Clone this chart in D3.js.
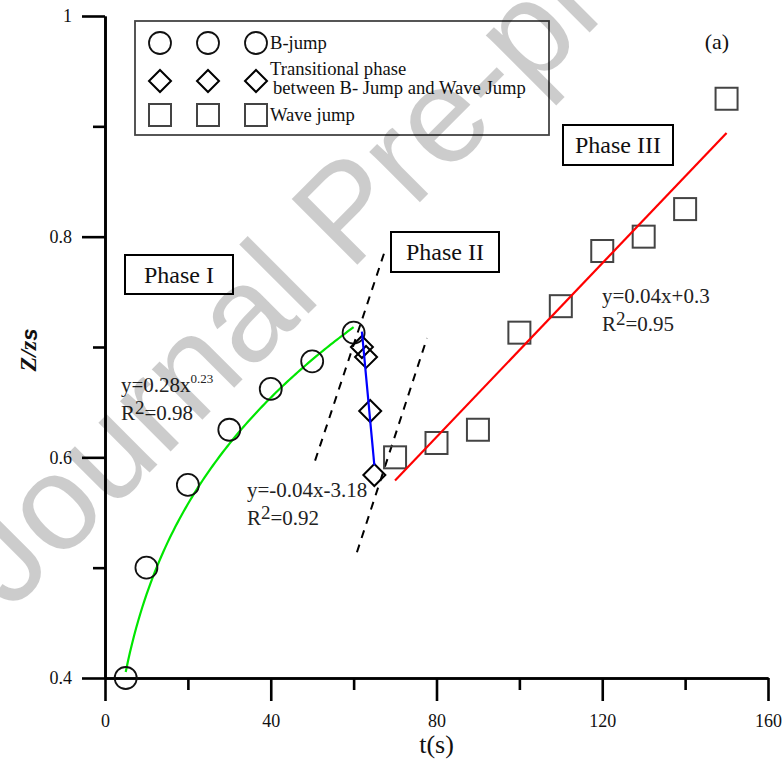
<!DOCTYPE html>
<html>
<head>
<meta charset="utf-8">
<script src="https://cdn.jsdelivr.net/npm/d3@7"></script>
<style>
  html, body { margin: 0; padding: 0; background: #fff; }
  svg { display: block; }
  text { font-family: "Liberation Serif", "Times New Roman", serif; }
</style>
</head>
<body>
<svg id="chart" width="782" height="767"></svg>
<script>
// Axis ticks
const xMajorTicks = [0, 40, 80, 120, 160];
const xMinorTicks = [20, 60, 100, 140];
const yMajorTicks = [0.4, 0.6, 0.8, 1];
const yTickLabels = ["0.4", "0.6", "0.8", "1"];
const yMinorTicks = [0.5, 0.7, 0.9];

// B-jump (phase I)
const bJumpT = [5, 10, 20, 30, 40, 50, 60];
const bJumpZ = [0.400, 0.500, 0.575, 0.625, 0.662, 0.687, 0.713];

// Transitional phase (phase II)
const transT = [62, 63, 64, 65];
const transZ = [0.700, 0.691, 0.642, 0.584];

// Wave jump (phase III)
const waveT = [70, 80, 90, 100, 110, 120, 130, 140, 150];
const waveZ = [0.600, 0.613, 0.625, 0.713, 0.737, 0.787, 0.800, 0.825, 0.925];

// Fitted trends
const powerFit = { a: 0.28, b: 0.23, from: 5, to: 60 };          // y = 0.28 x^0.23
const transFitT = [62, 65];
const transFitZ = [0.714, 0.593];
const waveFitT = [70, 150];
const waveFitZ = [0.579, 0.894];

// Dashed boundaries between the phases
const boundary1T = [50.7, 67.8];
const boundary1Z = [0.597, 0.790];
const boundary2T = [60.8, 77.7];
const boundary2Z = [0.514, 0.708];

const svg = d3.select("#chart");
const x = d3.scaleLinear().domain([0, 160]).range([105, 768]);
const y = d3.scaleLinear().domain([0.4, 1]).range([678, 16]);

// ---- axes ----
const axisG = svg.append("g");
function styleAxis(g) {
  g.selectAll("path.domain").attr("stroke", "#000").attr("stroke-width", 2.6);
  g.selectAll(".tick line").attr("stroke", "#000").attr("stroke-width", 2.6);
  g.selectAll(".tick text").attr("fill", "#111").style("font-family", "Liberation Serif, serif").style("font-size", "18px");
}
const xMinorAxis = axisG.append("g").attr("transform", `translate(0,${y(0.4)})`)
  .call(d3.axisBottom(x).tickValues(xMinorTicks).tickSize(12).tickSizeOuter(0).tickFormat(""));
styleAxis(xMinorAxis);
const xAxis = axisG.append("g").attr("transform", `translate(0,${y(0.4)})`)
  .call(d3.axisBottom(x).tickValues(xMajorTicks).tickSize(23).tickSizeOuter(0).tickPadding(13).tickFormat(d3.format("d")));
styleAxis(xAxis);
const yMinorAxis = axisG.append("g").attr("transform", `translate(${x(0)},0)`)
  .call(d3.axisLeft(y).tickValues(yMinorTicks).tickSize(12).tickSizeOuter(0).tickFormat(""));
styleAxis(yMinorAxis);
const yAxis = axisG.append("g").attr("transform", `translate(${x(0)},0)`)
  .call(d3.axisLeft(y).tickValues(yMajorTicks).tickSize(23).tickSizeOuter(0).tickPadding(10)
    .tickFormat((d, i) => yTickLabels[i]));
styleAxis(yAxis);

// axis titles
svg.append("text").attr("x", x(80)).attr("y", 753).attr("text-anchor", "middle")
  .style("font-size", "26px").attr("fill", "#111").text("t(s)");
const yTitle = svg.append("text").attr("transform", `translate(36,${(y(0.7) + 3)}) rotate(-90)`)
  .attr("text-anchor", "middle").style("font-size", "24px").style("font-weight", "bold")
  .style("font-style", "italic").attr("fill", "#111");
yTitle.append("tspan").text("Z/z");
yTitle.append("tspan").style("font-family", "Liberation Sans, sans-serif").style("font-size", "22px").attr("dy", 1).text("s");

// ---- boundaries ----
const lineGen = d3.line().x(d => x(d[0])).y(d => y(d[1]));
[[boundary1T, boundary1Z], [boundary2T, boundary2Z]].forEach(([t, z]) => {
  svg.append("path").datum(d3.zip(t, z)).attr("d", lineGen)
    .attr("fill", "none").attr("stroke", "#000").attr("stroke-width", 2)
    .attr("stroke-dasharray", "8,7");
});

// ---- fits ----
const powerPts = d3.range(powerFit.from, powerFit.to + 0.001, 0.5).map(t => [t, powerFit.a * Math.pow(t, powerFit.b)]);
svg.append("path").datum(powerPts).attr("d", lineGen)
  .attr("fill", "none").attr("stroke", "#00e600").attr("stroke-width", 2.2);

// ---- markers ----
const symR = 11;
const gMarks = svg.append("g");
function circleAt(g, cx, cy) {
  g.append("circle").attr("cx", cx).attr("cy", cy).attr("r", symR)
    .attr("fill", "none").attr("stroke", "#111").attr("stroke-width", 1.8);
}
function diamondAt(g, cx, cy) {
  const s = 11;
  g.append("path").attr("d", `M${cx},${cy - s}L${cx + s},${cy}L${cx},${cy + s}L${cx - s},${cy}Z`)
    .attr("fill", "none").attr("stroke", "#000").attr("stroke-width", 2);
}
function squareAt(g, cx, cy) {
  g.append("rect").attr("x", cx - 11).attr("y", cy - 11).attr("width", 22).attr("height", 22)
    .attr("fill", "none").attr("stroke", "#444").attr("stroke-width", 2);
}
bJumpT.forEach((t, i) => circleAt(gMarks, x(t), y(bJumpZ[i])));
waveT.forEach((t, i) => squareAt(gMarks, x(t), y(waveZ[i])));
transT.forEach((t, i) => diamondAt(gMarks, x(t), y(transZ[i])));

svg.append("path").datum(d3.zip(transFitT, transFitZ)).attr("d", lineGen)
  .attr("fill", "none").attr("stroke", "#0000ff").attr("stroke-width", 2.2);
svg.append("path").datum(d3.zip(waveFitT, waveFitZ)).attr("d", lineGen)
  .attr("fill", "none").attr("stroke", "#ff0000").attr("stroke-width", 2.2);

// ---- legend ----
const leg = svg.append("g");
leg.append("rect").attr("x", 135).attr("y", 21).attr("width", 414).attr("height", 114)
  .attr("fill", "none").attr("stroke", "#444").attr("stroke-width", 1.8);
const legendSymX = [160, 208, 256];
legendSymX.forEach(sx => circleAt(leg, sx, 43));
legendSymX.forEach(sx => diamondAt(leg, sx, 81));
legendSymX.forEach(sx => squareAt(leg, sx, 115));
const legText = (tx, ty, s) => leg.append("text").attr("x", tx).attr("y", ty)
  .style("font-size", "18.6px").attr("fill", "#111").text(s);
legText(270, 49, "B-jump");
legText(270, 75, "Transitional phase");
legText(273, 94, "between B- Jump and Wave Jump");
legText(270, 121, "Wave jump");

svg.append("text").attr("x", 717).attr("y", 49).attr("text-anchor", "middle")
  .style("font-size", "22px").attr("fill", "#111").text("(a)");

// ---- phase labels ----
function phaseBox(x0, y0, w, h, label) {
  svg.append("rect").attr("x", x0).attr("y", y0).attr("width", w).attr("height", h)
    .attr("fill", "#fff").attr("stroke", "#000").attr("stroke-width", 2);
  svg.append("text").attr("x", x0 + w / 2).attr("y", y0 + h / 2 + 8).attr("text-anchor", "middle")
    .style("font-size", "24px").attr("fill", "#111").text(label);
}
phaseBox(125, 255, 108, 39, "Phase I");
phaseBox(391, 232, 108, 40, "Phase II");
phaseBox(563, 125, 110, 40, "Phase III");

// ---- fit equations ----
function equation(tx, ty, parts, r2) {
  const t1 = svg.append("text").attr("x", tx).attr("y", ty).style("font-size", "21px").attr("fill", "#222");
  t1.append("tspan").text(parts[0]);
  if (parts[1]) t1.append("tspan").attr("dy", -9).style("font-size", "13px").text(parts[1]);
  const t2 = svg.append("text").attr("x", tx).attr("y", ty + 28).style("font-size", "21px").attr("fill", "#222");
  t2.append("tspan").text("R");
  t2.append("tspan").attr("dy", -6).style("font-size", "19px").text("2");
  t2.append("tspan").attr("dy", 6).text("=" + r2);
}
equation(121, 392, ["y=0.28x", "0.23"], "0.98");
equation(247, 497, ["y=-0.04x-3.18"], "0.92");
equation(602, 303, ["y=0.04x+0.3"], "0.95");

// ---- watermark ----
svg.append("text").attr("transform", "translate(10,612) rotate(-45)")
  .style("font-family", "Liberation Sans, Arial, sans-serif").style("font-size", "135px")
  .attr("fill", "#000").attr("fill-opacity", 0.2).text("Journal Pre-proof");
</script>
</body>
</html>
